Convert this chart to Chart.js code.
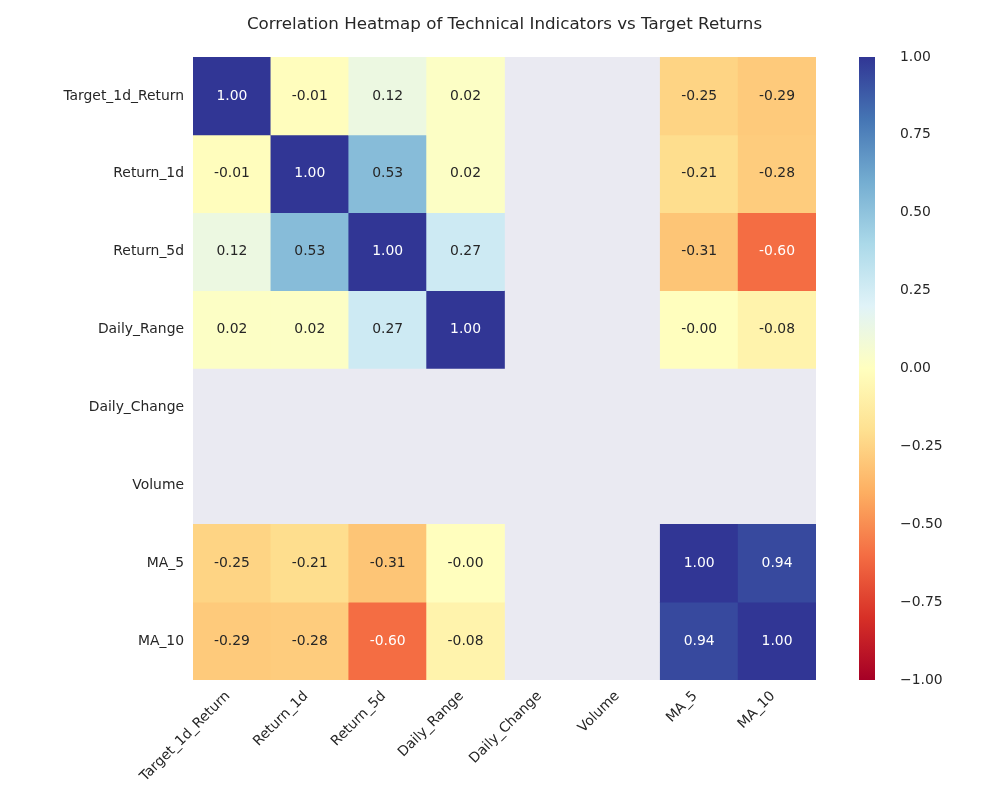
<!DOCTYPE html>
<html>
<head>
<meta charset="utf-8">
<script src="https://cdn.jsdelivr.net/npm/chart.js@4/dist/chart.umd.min.js"></script>
<style>
html, body { margin: 0; padding: 0; background: #fff; }
#wrap { position: relative; width: 1000px; height: 800px; }
#main { position: absolute; left: 0; top: 0; width: 1000px; height: 800px; }
#cbar { position: absolute; left: 840px; top: 0; width: 160px; height: 800px; }
</style>
</head>
<body>
<div id="wrap">
	<div id="main"><canvas id="heat"></canvas></div>
	<div id="cbar"><canvas id="bar"></canvas></div>
</div>
<script>
// 指標名
var indicators = ["Target_1d_Return", "Return_1d", "Return_5d", "Daily_Range", "Daily_Change", "Volume", "MA_5", "MA_10"];

// 相関 (null = NaN)
var corrTarget1d  = [ 1.00, -0.01,  0.12,  0.02, null, null, -0.25, -0.29];
var corrReturn1d  = [-0.01,  1.00,  0.53,  0.02, null, null, -0.21, -0.28];
var corrReturn5d  = [ 0.12,  0.53,  1.00,  0.27, null, null, -0.31, -0.60];
var corrDailyRng  = [ 0.02,  0.02,  0.27,  1.00, null, null, -0.004, -0.08];
var corrDailyChg  = [ null,  null,  null,  null, null, null,  null,  null];
var corrVolume    = [ null,  null,  null,  null, null, null,  null,  null];
var corrMA5       = [-0.25, -0.21, -0.31, -0.004, null, null, 1.00,  0.94];
var corrMA10      = [-0.29, -0.28, -0.60, -0.08, null, null,  0.94,  1.00];

var matrix = [corrTarget1d, corrReturn1d, corrReturn5d, corrDailyRng, corrDailyChg, corrVolume, corrMA5, corrMA10];

// colorbar
var cbarTicks = [-1.00, -0.75, -0.50, -0.25, 0.00, 0.25, 0.50, 0.75, 1.00];

var RDYLBU = ["#a50026", "#d73027", "#f46d43", "#fdae61", "#fee090", "#ffffbf",
	"#e0f3f8", "#abd9e9", "#74add1", "#4575b4", "#313695"];

var TEXT = "#262626";
var FONT = "DejaVu Sans";

function hexRgb(h) {
	return [parseInt(h.substr(1, 2), 16), parseInt(h.substr(3, 2), 16), parseInt(h.substr(5, 2), 16)];
}

function cmapRgb(v) {
	var t = (v + 1) / 2;
	t = Math.max(0, Math.min(1, t));
	var p = t * 10;
	var i = Math.min(9, Math.floor(p));
	var f = p - i;
	var a = hexRgb(RDYLBU[i]);
	var b = hexRgb(RDYLBU[i + 1]);
	return [0, 1, 2].map(function(k) { return Math.round(a[k] + (b[k] - a[k]) * f); });
}

function cmap(v) {
	var c = cmapRgb(v);
	return "rgb(" + c[0] + "," + c[1] + "," + c[2] + ")";
}

function luminance(c) {
	var l = c.map(function(x) {
		x = x / 255;
		return x <= 0.03928 ? x / 12.92 : Math.pow((x + 0.055) / 1.055, 2.4);
	});
	return 0.2126 * l[0] + 0.7152 * l[1] + 0.0722 * l[2];
}

var bgPlugin = {
	id: "axesBg",
	beforeDatasetsDraw: function(chart) {
		var a = chart.chartArea;
		var ctx = chart.ctx;
		ctx.save();
		ctx.fillStyle = "#eaeaf2";
		ctx.fillRect(a.left, a.top, a.right - a.left, a.bottom - a.top);
		ctx.restore();
	}
};

var annotPlugin = {
	id: "annot",
	afterDatasetsDraw: function(chart) {
		var ctx = chart.ctx;
		ctx.save();
		ctx.font = "13.9px '" + FONT + "'";
		ctx.textAlign = "center";
		ctx.textBaseline = "middle";
		chart.data.datasets.forEach(function(ds, i) {
			var meta = chart.getDatasetMeta(i);
			meta.data.forEach(function(el, j) {
				var v = matrix[i][j];
				if(v === null) return;
				var p = el.getProps(["x", "y", "base"], true);
				ctx.fillStyle = luminance(cmapRgb(v)) < 0.408 ? "#ffffff" : TEXT;
				ctx.fillText(v.toFixed(2), p.x, (p.y + p.base) / 2);
			});
		});
		ctx.restore();
	}
};

var datasets = matrix.map(function(row, i) {
	return {
		label: indicators[i],
		data: row.map(function(v) { return v === null ? null : [i, i + 1]; }),
		backgroundColor: row.map(function(v) { return v === null ? "rgba(0,0,0,0)" : cmap(v); }),
		borderWidth: 0,
		grouped: false,
		barPercentage: 1.0,
		categoryPercentage: 1.0
	};
});

new Chart(document.getElementById("heat"), {
	type: "bar",
	data: { labels: indicators, datasets: datasets },
	options: {
		responsive: true,
		maintainAspectRatio: false,
		animation: false,
		layout: { padding: { left: 0, right: 184, top: 0, bottom: 0 } },
		plugins: {
			legend: { display: false },
			tooltip: { enabled: false },
			title: {
				display: true,
				text: "Correlation Heatmap of Technical Indicators vs Target Returns",
				color: TEXT,
				fullSize: false,
				font: { family: FONT, size: 16.7, weight: "normal" },
				padding: { top: 15, bottom: 22 }
			}
		},
		scales: {
			x: {
				type: "category",
				offset: true,
				grid: { display: false, drawTicks: false },
				border: { display: false },
				ticks: {
					color: TEXT,
					font: { family: FONT, size: 13.9 },
					minRotation: 45,
					maxRotation: 45,
					autoSkip: false,
					padding: 8,
					labelOffset: -4
				},
				afterFit: function(s) { s.height = 120; }
			},
			y: {
				type: "linear",
				reverse: true,
				min: 0,
				max: 8,
				grid: { display: false, drawTicks: false },
				border: { display: false },
				afterBuildTicks: function(s) {
					s.ticks = indicators.map(function(n, i) { return { value: i + 0.5 }; });
				},
				ticks: {
					color: TEXT,
					font: { family: FONT, size: 13.9 },
					padding: 9,
					callback: function(v) { return indicators[Math.floor(v)]; }
				},
				afterFit: function(s) { s.width = 193; }
			}
		}
	},
	plugins: [bgPlugin, annotPlugin]
});

new Chart(document.getElementById("bar"), {
	type: "bar",
	data: {
		labels: ["cbar"],
		datasets: [{
			data: [[-1, 1]],
			backgroundColor: function(c) {
				var a = c.chart.chartArea;
				if(!a) return RDYLBU[5];
				var g = c.chart.ctx.createLinearGradient(0, a.bottom, 0, a.top);
				RDYLBU.forEach(function(col, k) { g.addColorStop(k / 10, col); });
				return g;
			},
			borderWidth: 0,
			barPercentage: 1.0,
			categoryPercentage: 1.0
		}]
	},
	options: {
		responsive: true,
		maintainAspectRatio: false,
		animation: false,
		layout: { padding: { left: 19, right: 0, top: 57, bottom: 120 } },
		plugins: { legend: { display: false }, tooltip: { enabled: false } },
		scales: {
			x: { display: false },
			y: {
				position: "right",
				min: -1,
				max: 1,
				grid: { display: false, drawTicks: false },
				border: { display: false },
				afterBuildTicks: function(s) {
					s.ticks = cbarTicks.map(function(v) { return { value: v }; });
				},
				ticks: {
					color: TEXT,
					font: { family: FONT, size: 13.9 },
					padding: 25,
					callback: function(v) {
						return (v < 0 ? "\u2212" : "") + Math.abs(v).toFixed(2);
					}
				},
				afterFit: function(s) { s.width = 125; }
			}
		}
	}
});
</script>
</body>
</html>
